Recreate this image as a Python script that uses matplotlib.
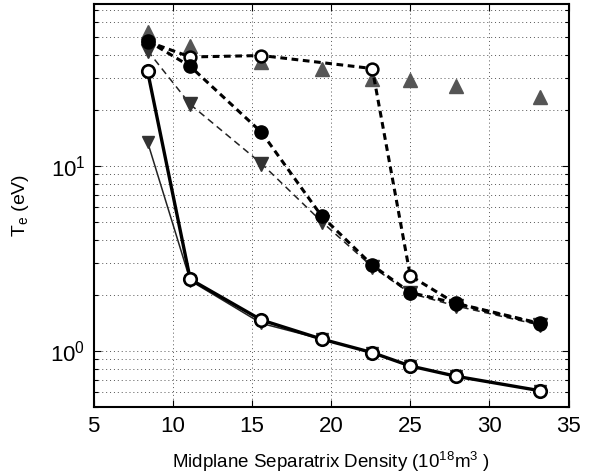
import matplotlib
matplotlib.use("Agg")
import matplotlib.pyplot as plt

plt.rcParams['font.family'] = ['Liberation Sans', 'DejaVu Sans']
plt.rcParams['mathtext.default'] = 'regular'

# Midplane separatrix density (1e18 m^-3)
density = [8.4, 11.1, 15.6, 19.4, 22.6, 25.0, 27.9, 33.2]
density_c = [8.4, 11.1, 15.6, 22.6, 25.0, 27.9, 33.2]

# Te (eV) series
te_solid_circle = [32.6, 2.44, 1.47, 1.16, 0.98, 0.83, 0.73, 0.61]
te_thin_down = [13.5, 2.40, 1.41, 1.16, 0.98, 0.83, 0.73, 0.61]
te_dash_open = [47.0, 38.8, 39.5, 33.6, 2.55, 1.80, 1.40]
te_dash_filled = [47.5, 34.5, 15.2, 5.36, 2.91, 2.07, 1.81, 1.41]
te_thin_dash_down = [42.0, 21.5, 10.3, 5.0, 2.85, 2.05, 1.75, 1.38]
te_up_tri = [52.8, 44.3, 36.4, 33.6, 29.6, 29.0, 26.9, 23.6]

xticks = [5, 10, 15, 20, 25, 30, 35]

fig = plt.figure(figsize=(5.98, 4.76), dpi=100)
ax = fig.add_axes([0.1567, 0.1456, 0.794, 0.846])

ax.set_yscale('log')
ax.set_xlim(5, 35)
ax.set_ylim(0.5, 75)

# grey up triangles (markers only)
ax.plot(density, te_up_tri, linestyle='none', marker='^', markersize=10,
        color='#555555', markeredgecolor='#555555', zorder=3)
# thin dashed dark down triangles
ax.plot(density, te_thin_dash_down, linestyle=(0, (4.5, 3)), linewidth=1.1,
        color='#222222', marker='v', markersize=10, markerfacecolor='#333333',
        markeredgecolor='#333333', zorder=4)
# thick dashed open circles
ax.plot(density_c, te_dash_open, linestyle=(0, (2.2, 1.5)), linewidth=2.2,
        color='black', marker='o', markersize=8.5, markerfacecolor='white',
        markeredgecolor='black', markeredgewidth=1.8, zorder=5)
# thick dashed filled circles
ax.plot(density, te_dash_filled, linestyle=(0, (2.2, 1.5)), linewidth=2.2,
        color='black', marker='o', markersize=9.5, markerfacecolor='black',
        markeredgecolor='black', zorder=6)
# thin solid down triangles
ax.plot(density, te_thin_down, linestyle='-', linewidth=1.1, color='#222222',
        marker='v', markersize=9, markerfacecolor='#333333',
        markeredgecolor='#333333', zorder=6)
# thick solid open circles
ax.plot(density, te_solid_circle, linestyle='-', linewidth=2.4, color='black',
        marker='o', markersize=9, markerfacecolor='white',
        markeredgecolor='black', markeredgewidth=1.9, zorder=7)

ax.set_xticks(xticks)
ax.set_xticklabels([str(t) for t in xticks])

ax.grid(True, which='major', axis='both', color='#555555',
        linestyle=(0, (1, 3)), linewidth=0.7)
ax.grid(True, which='minor', axis='y', color='#555555',
        linestyle=(0, (1, 3)), linewidth=0.7)

ax.tick_params(which='both', direction='in', top=True, right=True,
               labelsize=16, width=0.8)
ax.tick_params(which='major', length=5)
ax.tick_params(which='minor', length=3)
ax.tick_params(axis='x', pad=7)
ax.tick_params(axis='y', pad=6)
for s in ax.spines.values():
    s.set_linewidth(1.5)

ax.set_xlabel('Midplane Separatrix Density (10$^{18}$m$^{3}$ )', fontsize=13.5,
              labelpad=9)
ax.set_ylabel('T$_e$ (eV)', fontsize=14, labelpad=14)

fig.savefig('out.png', dpi=100)
